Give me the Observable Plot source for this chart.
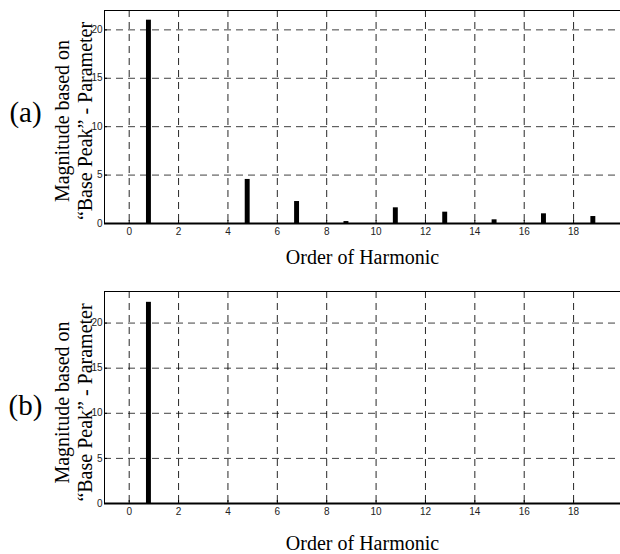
<!DOCTYPE html>
<html>
<head>
<meta charset="utf-8">
<script src="https://cdn.jsdelivr.net/npm/d3@7"></script>
<script src="https://cdn.jsdelivr.net/npm/@observablehq/plot@0.6"></script>
<style>
  body { margin: 0; background: #fff; }
  #chart { width: 620px; height: 554px; overflow: hidden; }
  #chart svg { display: block; }
</style>
</head>
<body>
<div id="chart"></div>
<script>
// ---- data ----
const harmonicOrder = [1, 3, 5, 7, 9, 11, 13, 15, 17, 19];
const magnitudeA = [21.0, 0, 4.55, 2.27, 0.2, 1.62, 1.17, 0.38, 1.0, 0.72];
const magnitudeB = [22.3, 0, 0, 0, 0, 0, 0, 0, 0, 0];
const xTicks = [0, 2, 4, 6, 8, 10, 12, 14, 16, 18];
const yTicks = [0, 5, 10, 15, 20];
const panelLabels = ["(a)", "(b)"];
const yLabelText = "Magnitude based on\n\u201CBase Peak\u201D - Parameter";
const xLabelText = "Order of Harmonic";

const serif = "'Liberation Serif', 'DejaVu Serif', serif";
const sans = "'Liberation Sans', Arial, sans-serif";

function panel({values, yMax, height, marginTop, marginBottom, tag, tagDy, labelDy, xLabelOffset}) {
  const data = harmonicOrder.map((h, i) => ({h, v: values[i]})).filter(d => d.v > 0);
  return Plot.plot({
    width: 620,
    height,
    marginLeft: 104,
    marginRight: 0,
    marginTop,
    marginBottom,
    style: {fontFamily: sans, fontSize: "10px", color: "#000", background: "#fff"},
    x: {domain: [-1, 19.9], axis: null},
    y: {domain: [0, yMax], axis: null},
    marks: [
      Plot.ruleX(xTicks, {stroke: "#000", strokeWidth: 1, strokeDasharray: "7,5", strokeOpacity: 0.85}),
      Plot.ruleY(yTicks.filter(t => t > 0), {stroke: "#000", strokeWidth: 1, strokeDasharray: "7,5", strokeOpacity: 0.75}),
      Plot.rectY(data, {x1: d => d.h - 0.3, x2: d => d.h - 0.1, y1: 0, y2: "v", fill: "#000"}),
      Plot.frame({anchor: "top", stroke: "#000"}),
      Plot.frame({anchor: "left", stroke: "#000"}),
      Plot.axisX({ticks: xTicks, anchor: "bottom", tickSize: -3, tickFormat: () => "", label: null}),
      Plot.axisX({ticks: xTicks, anchor: "bottom", tickSize: 0, tickPadding: 4, tickFormat: d => d, fill: "#222", label: null}),
      Plot.axisY({ticks: yTicks, anchor: "left", tickSize: -3, tickFormat: () => "", label: null}),
      Plot.text(yTicks, {y: d => d, frameAnchor: "left", dx: -2, textAnchor: "end", fill: "#222", fontSize: 10, fontFamily: sans}),
      Plot.ruleY([0], {stroke: "#000", strokeWidth: 2}),
      Plot.text([xLabelText], {frameAnchor: "bottom", dy: xLabelOffset, fontFamily: serif, fontSize: 20, fill: "#000", lineAnchor: "middle"}),
      Plot.text([yLabelText], {frameAnchor: "left", dx: -31, dy: labelDy, rotate: -90, fontFamily: serif, fontSize: 20, lineHeight: 1.12, fill: "#000", textAnchor: "middle", lineAnchor: "middle"}),
      Plot.text([tag], {frameAnchor: "left", dx: -79, dy: tagDy, fontFamily: serif, fontSize: 29, fill: "#000", textAnchor: "middle", lineAnchor: "middle"})
    ]
  });
}

const chart = document.getElementById("chart");
chart.append(panel({values: magnitudeA, yMax: 22, height: 270, marginTop: 10, marginBottom: 47, tag: panelLabels[0], tagDy: -4, labelDy: 4, xLabelOffset: 34}));
chart.append(panel({values: magnitudeB, yMax: 23.5, height: 284, marginTop: 21, marginBottom: 51, tag: panelLabels[1], tagDy: 8, labelDy: 5, xLabelOffset: 40}));
</script>
</body>
</html>
